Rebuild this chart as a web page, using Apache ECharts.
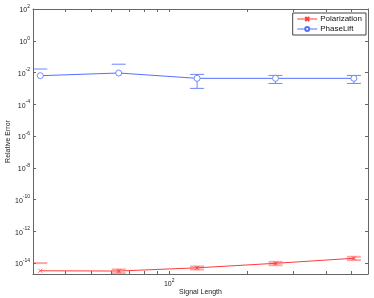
<!DOCTYPE html>
<html>
<head>
<meta charset="utf-8">
<script src="https://cdn.jsdelivr.net/npm/echarts@6/dist/echarts.min.js"></script>
<style>html,body{margin:0;padding:0;background:#fff;}#c{width:374px;height:298px;}</style>
</head>
<body>
<div id="c"></div>
<script>
// ---- data ----
const signalLength = [32, 64, 128, 256, 512];
const polarizationError = [3.26e-15, 3.14e-15, 5.0e-15, 9.6e-15, 2.0e-14];
const polarizationStd = [6.7e-15, 0.83e-15, 1.1e-15, 2.3e-15, 4.7e-15];
const phaseLiftError = [6.3e-3, 9.3e-3, 4.3e-3, 4.3e-3, 4.3e-3];
const phaseLiftStd = [1.03e-2, 2.4e-2, 3.3e-3, 2.25e-3, 2.25e-3];
const xTickValues = [40, 50, 60, 70, 80, 90, 100, 200, 300, 400, 500];
const xLabelValues = [100];
const yLabelExponents = [-14, -12, -10, -8, -6, -4, -2, 0, 2];
const xRange = [30, 580];
const yRange = [-14.69, 2];

const RED = '#ff3a3a';
const BLUE = '#5570ff';
const AX = '#666666';
const FONT = 'Liberation Sans, Arial, sans-serif';
const lg = Math.log10;

function lineData(xs, ys) { return xs.map((x, i) => [lg(x), lg(ys[i])]); }
function errData(xs, m, s) {
  return xs.map((x, i) => {
    const up = m[i] + s[i], lo = m[i] - s[i];
    return [lg(x), lg(up), lo > 0 ? lg(lo) : lg(up), lo > 0 ? 1 : 0];
  });
}
function errRender(color, op, w) {
  return function (params, api) {
    const x = api.value(0), up = api.value(1), lo = api.value(2), has = api.value(3);
    const pu = api.coord([x, up]);
    const st = { stroke: color, lineWidth: w, opacity: op };
    const ch = [{ type: 'line', shape: { x1: pu[0] - 7, y1: pu[1], x2: pu[0] + 7, y2: pu[1] }, style: st }];
    if (has) {
      const pl = api.coord([x, lo]);
      ch.push({ type: 'line', shape: { x1: pu[0], y1: pu[1], x2: pl[0], y2: pl[1] }, style: st });
      ch.push({ type: 'line', shape: { x1: pl[0] - 7, y1: pl[1], x2: pl[0] + 7, y2: pl[1] }, style: st });
    }
    return { type: 'group', children: ch };
  };
}
function supLabel(e) { return '{b|10}{s|' + e + '}'; }
const rich = {
  b: { fontSize: 7, fontFamily: FONT, color: '#222', verticalAlign: 'bottom' },
  s: { fontSize: 5, fontFamily: FONT, color: '#222', padding: [0, 0, 5, 0], verticalAlign: 'bottom' }
};

const xTicks = xTickValues.map(lg);
const yTicks = yLabelExponents.slice();

const chart = echarts.init(document.getElementById('c'), null, { renderer: 'canvas' });
chart.setOption({
  animation: false,
  backgroundColor: '#fff',
  textStyle: { fontFamily: FONT },
  grid: { left: 33, right: 6, top: 9, bottom: 24, containLabel: false, outerBoundsMode: 'none' },
  legend: {
    data: ['Polarization', 'PhaseLift'],
    orient: 'vertical', right: 8, top: 13,
    backgroundColor: '#fff', borderColor: '#444', borderWidth: 1,
    padding: [2, 4, 2, 4], itemGap: 2, itemWidth: 20, itemHeight: 5,
    lineStyle: { width: 1 },
    textStyle: { fontSize: 8, fontFamily: FONT, color: '#111', padding: [0, 0, 0, -2] }
  },
  xAxis: [{
    type: 'value', min: lg(xRange[0]), max: lg(xRange[1]),
    name: 'Signal Length', nameLocation: 'middle', nameGap: 15, nameMoveOverlap: false,
    nameTextStyle: { fontSize: 7, fontFamily: FONT, color: '#222' },
    axisLine: { show: true, onZero: false, lineStyle: { color: AX, width: 1 } },
    axisTick: { show: true, inside: true, length: 3, customValues: xTicks, lineStyle: { color: AX } },
    axisLabel: { customValues: xLabelValues.map(lg), margin: 4, formatter: v => supLabel(Math.round(v)), rich: rich },
    splitLine: { show: false }
  }, {
    type: 'value', position: 'top', min: lg(xRange[0]), max: lg(xRange[1]),
    axisLine: { show: true, onZero: false, lineStyle: { color: AX, width: 1 } },
    axisTick: { show: true, inside: true, length: 3, customValues: xTicks, lineStyle: { color: AX } },
    axisLabel: { show: false }, splitLine: { show: false }
  }],
  yAxis: [{
    type: 'value', min: yRange[0], max: yRange[1],
    name: 'Relative Error', nameLocation: 'middle', nameGap: 21, nameRotate: 90, nameMoveOverlap: false,
    nameTextStyle: { fontSize: 7, fontFamily: FONT, color: '#222' },
    axisLine: { show: true, onZero: false, lineStyle: { color: AX, width: 1 } },
    axisTick: { show: true, inside: true, length: 3, customValues: yTicks, lineStyle: { color: AX } },
    axisLabel: { customValues: yTicks, margin: 3, formatter: v => supLabel(Math.round(v)), rich: rich },
    splitLine: { show: false }
  }, {
    type: 'value', position: 'right', min: yRange[0], max: yRange[1],
    axisLine: { show: true, onZero: false, lineStyle: { color: AX, width: 1 } },
    axisTick: { show: true, inside: true, length: 3, customValues: yTicks, lineStyle: { color: AX } },
    axisLabel: { show: false }, splitLine: { show: false }
  }],
  series: [
    { name: 'PolErr', type: 'custom', xAxisIndex: 0, yAxisIndex: 0, clip: true,
      renderItem: errRender(RED, 0.45, 2), data: errData(signalLength, polarizationError, polarizationStd),
      encode: { x: 0, y: [1, 2] }, silent: true, z: 1 },
    { name: 'PLErr', type: 'custom', xAxisIndex: 0, yAxisIndex: 0, clip: true,
      renderItem: errRender(BLUE, 0.85, 1), data: errData(signalLength, phaseLiftError, phaseLiftStd),
      encode: { x: 0, y: [1, 2] }, silent: true, z: 1 },
    { name: 'Polarization', type: 'line', data: lineData(signalLength, polarizationError),
      symbol: 'path://M0,0L10,10M10,0L0,10', symbolSize: 4, showAllSymbol: true,
      lineStyle: { color: RED, width: 1 },
      itemStyle: { color: RED, borderColor: RED, borderWidth: 0.8 }, z: 3 },
    { name: 'PhaseLift', type: 'line', data: lineData(signalLength, phaseLiftError),
      symbol: 'circle', symbolSize: 6, showAllSymbol: true,
      lineStyle: { color: BLUE, width: 1 },
      itemStyle: { color: '#ffffff', borderColor: BLUE, borderWidth: 0.8 }, z: 3 }
  ]
});
</script>
</body>
</html>
